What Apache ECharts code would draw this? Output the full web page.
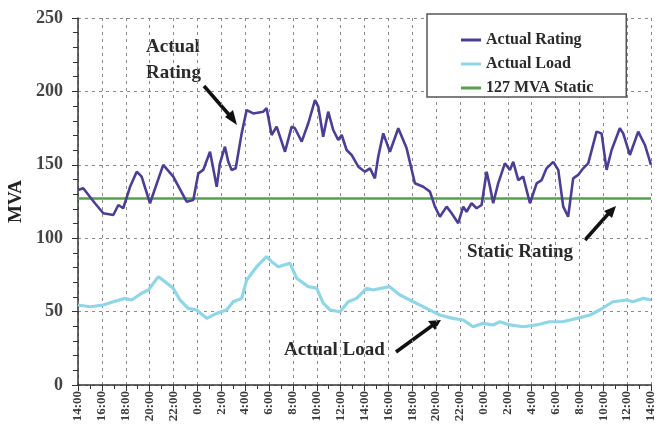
<!DOCTYPE html>
<html>
<head>
<meta charset="utf-8">
<script src="https://cdn.jsdelivr.net/npm/echarts@6/dist/echarts.min.js"></script>
<style>
  html, body { margin: 0; padding: 0; background: #fff; }
  #chart { width: 658px; height: 445px; }
</style>
</head>
<body>
<div id="chart"></div>
<script>
// Tick labels along the 48-hour time axis (one every 2 hours)
const tickLabels = ['14:00','16:00','18:00','20:00','22:00','0:00','2:00','4:00','6:00','8:00','10:00','12:00',
  '14:00','16:00','18:00','20:00','22:00','0:00','2:00','4:00','6:00','8:00','10:00','12:00','14:00'];

// Actual (dynamic) rating, MVA, at hours elapsed since 14:00 on day one
const ratingHours = [0.0,0.44,1.42,2.12,2.96,3.38,3.79,4.36,4.92,5.33,6.03,7.14,7.98,9.10,9.66,10.08,10.49,11.06,11.62,11.89,
  12.31,12.59,12.87,13.21,13.71,14.13,14.68,15.52,15.80,16.22,16.64,17.34,17.90,18.17,18.74,19.29,19.85,20.13,20.54,20.96,
  21.38,21.80,22.09,22.50,22.92,23.48,24.04,24.46,24.87,25.15,25.57,26.13,26.83,27.53,28.22,28.92,29.48,29.90,30.32,30.88,
  31.30,31.85,32.27,32.55,32.97,33.39,33.81,34.23,34.51,34.78,35.20,35.76,36.18,36.46,36.88,37.29,37.86,38.42,38.84,39.25,
  39.81,40.23,40.65,41.06,41.48,41.90,42.32,42.74,43.44,43.86,44.28,44.70,45.39,45.67,46.23,46.93,47.49,48.0];
const ratingValues = [132.8,134,123.8,117,115.8,122.6,120.4,135,145.3,141.9,123.8,149.9,141.9,124.9,126,144.2,146.5,158.9,135,151,
  162.3,152,146.5,147.6,171.4,187.3,185,186.2,188.5,170.3,176,158.9,176,174.9,165.8,178.3,194.1,189.6,169.1,186.2,
  173.7,166.9,170.3,160.1,156.7,148.7,145.3,147.6,140.8,155.5,171.4,158.9,174.9,161.2,137.4,135,131.7,121.5,114.6,121.5,
  117,110.2,121.5,118,123.8,120.4,122.6,145.3,135,123.8,137.4,151,146.5,152,139.6,141.9,123.8,137.4,139.6,147.6,
  152,146.5,121.5,114.6,140.8,143.1,147.6,151,172.6,171.4,146.5,160.1,174.9,171.4,156.7,172.6,163.5,150];

// Actual load, MVA
const loadHours = [0.0,1.0,2.1,2.96,3.94,4.5,5.33,5.9,6.73,7.29,7.98,8.54,9.24,9.94,10.78,11.62,12.45,13.0,13.71,14.13,
  14.97,15.8,16.22,16.78,17.76,18.32,19.29,19.99,20.54,21.11,21.94,22.64,23.34,24.18,24.7,26.1,26.97,28.08,29.2,30.3,
  31.4,32.27,33.1,33.95,34.78,35.34,36.18,37.3,38.4,39.5,40.6,41.8,42.9,43.7,44.8,45.95,46.5,47.35,48.0];
const loadValues = [54.5,53.3,54.5,56.7,59.0,57.9,62.5,64.7,73.8,70.4,65.9,57.9,52.2,51.1,45.4,48.8,51.1,56.7,59.0,71.5,
  80.6,87.4,84.0,80.6,82.9,72.7,67.0,66.0,55.7,51.1,49.9,56.7,59.0,65.9,64.7,67.0,61.3,56.7,52.2,47.7,
  45.4,44.3,39.7,42.0,40.9,43.1,40.9,39.7,40.9,43.1,43.1,45.4,47.7,51.1,56.7,57.9,56.7,59.0,57.9];

// Static rating, MVA
const staticRating = 127;
const seriesNames = ['Actual Rating', 'Actual Load', '127 MVA Static'];

const pairs = (xs, ys) => xs.map((x, i) => [x, ys[i]]);

const serif = 'Liberation Serif';
const noteStyle = { fontFamily: serif, fontSize: 19, fontWeight: 'bold', fill: '#2a2a2a' };
const chart = echarts.init(document.getElementById('chart'), null, { renderer: 'canvas' });

chart.setOption({
  animation: false,
  backgroundColor: '#ffffff',
  grid: { left: 78, right: 7, top: 18, bottom: 60, outerBoundsMode: 'none', containLabel: false },
  legend: {
    orient: 'vertical',
    left: 427, top: 14,
    padding: [18, 33, 1, 34],
    itemGap: 8,
    itemWidth: 20, itemHeight: 3,
    borderColor: '#555', borderWidth: 1.5,
    backgroundColor: '#fff',
    icon: 'rect',
    textStyle: { fontFamily: serif, fontSize: 16, color: '#2a2a2a', fontWeight: 'bold' },
    data: seriesNames
  },
  xAxis: {
    type: 'value', min: 0, max: 48, interval: 2,
    axisLine: { onZero: false, lineStyle: { color: '#333', width: 1.5 } },
    axisTick: { show: true, inside: false, length: 6, lineStyle: { color: '#333' } },
    minorTick: { show: true, splitNumber: 2, length: 4, lineStyle: { color: '#333' } },
    splitLine: { show: true, lineStyle: { color: '#8a8a8a', type: [3, 4], width: 1 } },
    axisLabel: {
      rotate: 90, margin: 6, fontFamily: serif, fontSize: 13, fontWeight: 'bold', color: '#3a3a3a',
      formatter: v => tickLabels[Math.round(v / 2)]
    }
  },
  yAxis: {
    type: 'value', min: 0, max: 250, interval: 50,
    name: 'MVA', nameLocation: 'middle', nameGap: 50, nameRotate: 90,
    nameTextStyle: { fontFamily: serif, fontSize: 19, fontWeight: 'bold', color: '#222' },
    axisLine: { show: true, lineStyle: { color: '#333', width: 1.5 } },
    axisTick: { show: true, length: 6, lineStyle: { color: '#333' } },
    minorTick: { show: true, splitNumber: 5, length: 5, lineStyle: { color: '#333' } },
    splitLine: { show: true, lineStyle: { color: '#8a8a8a', type: [3, 4], width: 1 } },
    axisLabel: { fontFamily: serif, fontSize: 18, fontWeight: 'bold', color: '#444', margin: 15 }
  },
  series: [
    {
      name: seriesNames[0], type: 'line', symbol: 'none', z: 4,
      data: pairs(ratingHours, ratingValues),
      lineStyle: { color: '#4b3f95', width: 2.6 }, itemStyle: { color: '#4b3f95' }
    },
    {
      name: seriesNames[1], type: 'line', symbol: 'none', z: 3,
      data: pairs(loadHours, loadValues),
      lineStyle: { color: '#8fd6e6', width: 3.2 }, itemStyle: { color: '#8fd6e6' }
    },
    {
      name: seriesNames[2], type: 'line', symbol: 'none', z: 2,
      data: [[0, staticRating], [48, staticRating]],
      lineStyle: { color: '#5a9e4f', width: 2.6 }, itemStyle: { color: '#5a9e4f' }
    }
  ],
  graphic: [
    { type: 'text', left: 146, top: 34, style: Object.assign({ text: 'Actual\nRating', lineHeight: 26, align: 'center' }, noteStyle) },
    { type: 'line', shape: { x1: 204, y1: 86, x2: 231, y2: 117 }, style: { stroke: '#111', lineWidth: 3.5 } },
    { type: 'polygon', shape: { points: [[237, 125], [225, 117], [233, 110]] }, style: { fill: '#111' } },

    { type: 'text', left: 467, top: 243, style: Object.assign({ text: 'Static Rating' }, noteStyle) },
    { type: 'line', shape: { x1: 585, y1: 240, x2: 609, y2: 213 }, style: { stroke: '#111', lineWidth: 3.5 } },
    { type: 'polygon', shape: { points: [[616, 206], [604, 211], [612, 218]] }, style: { fill: '#111' } },

    { type: 'text', left: 284, top: 341, style: Object.assign({ text: 'Actual Load' }, noteStyle) },
    { type: 'line', shape: { x1: 396, y1: 352, x2: 433, y2: 325 }, style: { stroke: '#111', lineWidth: 3.5 } },
    { type: 'polygon', shape: { points: [[441, 320], [428, 321], [435, 330]] }, style: { fill: '#111' } }
  ]
});
</script>
</body>
</html>
